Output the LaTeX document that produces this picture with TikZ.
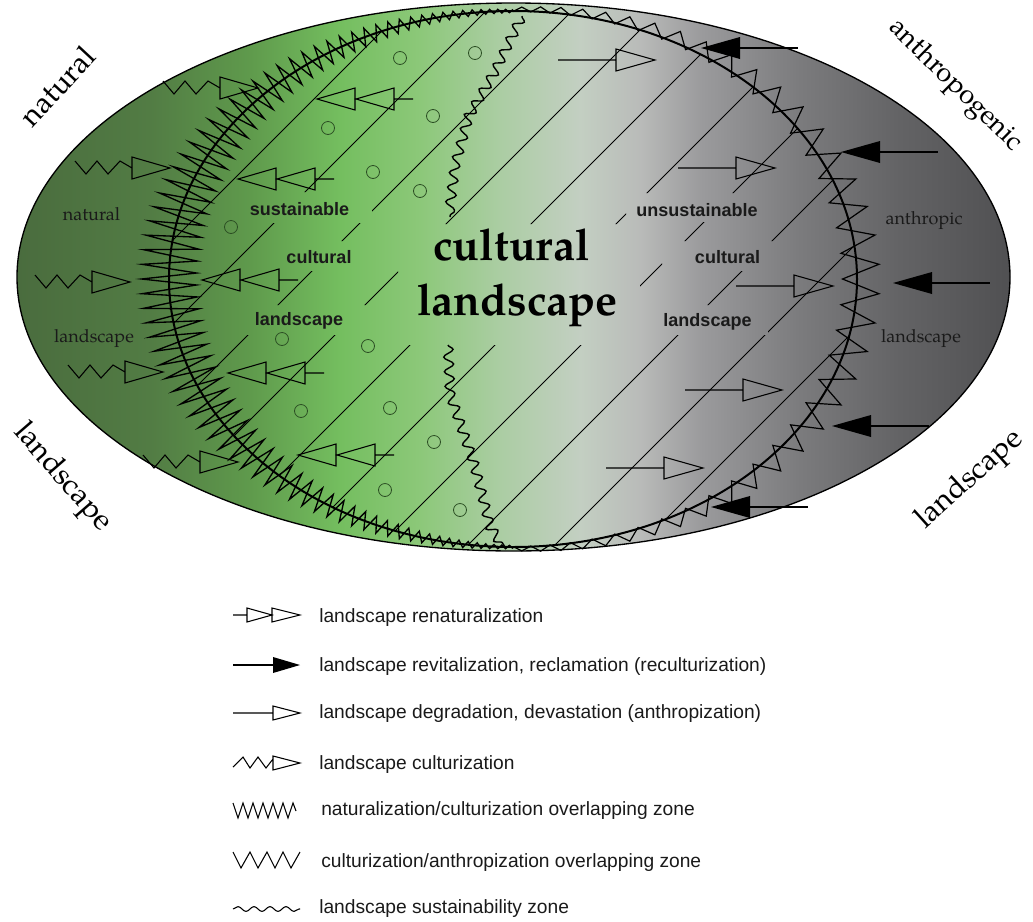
\documentclass[tikz,border=0pt]{standalone}
\usepackage{fontspec}
\setmainfont{TeX Gyre Pagella}
\newfontfamily\arialf{Liberation Sans}
\usetikzlibrary{decorations.pathmorphing}
\definecolor{g0}{HTML}{4A6C3E}
\definecolor{g1}{HTML}{527C44}
\definecolor{g2}{HTML}{5F9A4C}
\definecolor{g3}{HTML}{74BE5F}
\definecolor{g4}{HTML}{8CC879}
\definecolor{g5}{HTML}{ABCDA3}
\definecolor{g6}{HTML}{C3CFC2}
\definecolor{g7}{HTML}{B9BBB9}
\definecolor{g8}{HTML}{9B9B9D}
\definecolor{g9}{HTML}{7B7B7D}
\definecolor{g10}{HTML}{636365}
\definecolor{g11}{HTML}{505052}
\definecolor{circ}{HTML}{2C4F24}
\definecolor{txt}{HTML}{1A1A1A}
\pgfdeclarehorizontalshading{landgrad}{100bp}{color(0bp)=(g0); color(25bp)=(g0); color(31.7bp)=(g1); color(36.73bp)=(g2); color(41.26bp)=(g3); color(45.29bp)=(g4); color(49.32bp)=(g5); color(53.35bp)=(g6); color(56.37bp)=(g7); color(59.39bp)=(g8); color(64.43bp)=(g9); color(69.46bp)=(g10); color(75bp)=(g11); color(100bp)=(g11)}
\begin{document}
\begin{tikzpicture}[x=0.75pt,y=-0.75pt,
  declare function={
    zsl(\k)=\k/80-1;
    ztl(\k)=180+90*(0.53*zsl(\k)+0.47*sin(90*zsl(\k)));
    zcl(\k)=abs(cos(ztl(\k)));
    zdl(\k)=(1-2*mod(round(\k),2))*(1.5+26*(0.4*zcl(\k)+0.6*zcl(\k)*zcl(\k)));
    zsr(\k)=\k/38-1;
    ztr(\k)=90*(0.6*zsr(\k)+0.4*sin(90*zsr(\k)));
    zcr(\k)=abs(cos(ztr(\k)));
    zdr(\k)=mod(round(\k),2)*(3.5+19*zcr(\k))-(1-mod(round(\k),2))*(0.5+14*zcr(\k)*zcr(\k)*zcr(\k));
  },
  arr/.style={line width=0.8pt, line join=miter, draw=black},
  hatch/.style={line width=0.7pt, black},
  ring/.style={draw=circ, line width=0.6pt},
  wave/.style={decorate, decoration={snake, amplitude=3.6pt, segment length=11pt}, line width=1.05pt},
  outlbl/.style={font=\fontsize{22.5}{26}\selectfont, text=black, inner sep=0pt},
  serlbl/.style={font=\fontsize{13.5}{16}\selectfont, text=txt, inner sep=0pt, anchor=base},
  sanlbl/.style={font=\arialf\bfseries\fontsize{13.5}{16}\selectfont, text=txt, inner sep=0pt, anchor=base},
  titlbl/.style={font=\bfseries\fontsize{33}{36}\selectfont, text=black, inner sep=0pt, anchor=base},
  leglbl/.style={font=\arialf\fontsize{14.4}{17}\selectfont, text=txt, inner sep=0pt, anchor=base west},
  renat/.pic={\draw[arr] (0,0)--(38,-11)--(38,11)--cycle (39,0)--(77,-11)--(77,11)--cycle (77,0)--(96,0);},
  revit/.pic={\fill[black] (0,0)--(39,-11)--(39,11)--cycle; \draw[arr] (39,0)--(97,0);},
  degr/.pic={\draw[arr] (0,0)--(58,0) (58,-11)--(97,0)--(58,11)--cycle;},
  cultz/.pic={\draw[arr] (0,-7)--(11,6)--(22,-7)--(33,6)--(45,-7)--(57,0) (57,-11)--(95,0)--(57,11)--cycle;}
]
\useasboundingbox (0,0) rectangle (1033,922);

% background ellipse with gradient
\shade[shading=landgrad] (513.5,277) ellipse [x radius=496.5, y radius=274];
\draw[line width=1pt] (513.5,277) ellipse [x radius=496.5, y radius=274];

% hatch lines
\begin{scope}
  \clip (513,279) ellipse [x radius=344, y radius=268];
  \begin{scope}[even odd rule]
  \clip (0,0) rectangle (1033,600)
     (242,192) rectangle (372,223)
     (265,241) rectangle (372,271)
     (238,305) rectangle (366,335)
     (398,224) rectangle (640,345)
     (626,193) rectangle (772,222)
     (662,241) rectangle (775,271)
     (645,305) rectangle (768,335);
  \foreach \c in {413,497,583,670,755,840,926,1013,1100,1185}
    \draw[hatch] (\c-600,600) -- (\c,0);
  \end{scope}
\end{scope}

% small circles
\foreach \p in {(400,58),(475,53),(328,128),(433,116),(373,172),(420,191),(231,227),(282,339),(368,346),(301,411),(390,408),(434,442),(385,490),(460,510)}
  \draw[ring] \p circle (6.5);

% sustainability wavy lines
\draw[wave] (522,16) -- (497,67) -- (470,113) -- (457,160) -- (450,217);
\draw[wave] (448,345) -- (450,390) -- (473,457) -- (490,523) -- (505,547);

% inner ellipse
\draw[line width=1.5pt] (513,279) ellipse [x radius=344, y radius=268];

% left zigzag (naturalization/culturization)
\draw[line width=1pt, line join=miter] plot[domain=0:160, samples=161, variable=\k]
  ({513+(344+zdl(\k))*cos(ztl(\k))}, {279+(268+zdl(\k))*sin(ztl(\k))});
% right zigzag (culturization/anthropization)
\draw[line width=0.9pt, line join=miter] plot[domain=0:76, samples=77, variable=\k]
  ({513+(344+zdr(\k))*cos(ztr(\k))}, {279+(268+zdr(\k))*sin(ztr(\k))});

% culturization arrows
\foreach \p in {(163,88),(75,168),(35,282),(68,372),(143,462)}
  \pic at \p {cultz};
% renaturalization arrows
\foreach \p in {(317,99),(238,179),(202,280),(228,373),(298,455)}
  \pic at \p {renat};
% degradation arrows
\foreach \p in {(558,60),(678,168),(736,286),(685,390),(606,468)}
  \pic at \p {degr};
% revitalization arrows
\foreach \p in {(701,48),(841,152),(893,283),(832,426),(711,507)}
  \pic at \p {revit};

% outer labels
\node[outlbl, rotate=47] (lnat) at (57,86) {natural};
\node[outlbl, font=\fontsize{20.5}{24}\selectfont, rotate=-44.5] (lanth) at (955,86) {anthropogenic};
\node[outlbl, rotate=-49] (llandl) at (62,478) {landscape};
\node[outlbl, rotate=42] (llandr) at (970,480) {landscape};

% serif inner labels
\node[serlbl] (snat) at (91.5,220) {natural};
\node[serlbl] (slandl) at (94,342) {landscape};
\node[serlbl] (santh) at (924,224) {anthropic};
\node[serlbl] (slandr) at (921,342) {landscape};

% sans labels
\node[sanlbl] (sus) at (299.5,215) {sustainable};
\node[sanlbl] (culL) at (319,263) {cultural};
\node[sanlbl] (lanL) at (299,325) {landscape};
\node[sanlbl] (unsus) at (697,216) {unsustainable};
\node[sanlbl] (culR) at (727.5,263) {cultural};
\node[sanlbl] (lanR) at (707.5,326) {landscape};

% title
\node[titlbl] (t1) at (511.5,260) {cultural};
\node[titlbl] (t2) at (517.5,315) {landscape};

% legend symbols
\draw[arr] (233,615)--(247,615) (247,608)--(272,615)--(247,622)--cycle (272,608)--(300,615)--(272,622)--cycle;
\draw[arr] (233,665)--(274,665);
\fill[black] (273,657)--(300,665)--(273,673)--cycle;
\draw[arr] (233,713)--(273,713) (273,706)--(300,713)--(273,720)--cycle;
\draw[arr] (233,767)--(243,757)--(250,768)--(258,757)--(266,768)--(273,759) (273,756)--(300,763)--(273,770)--cycle;
\draw[arr] (233,803)--(238,818)--(243,803)--(248,818)--(253,803)--(258,818)--(263,803)--(268,818)--(273,803)--(278,818)--(283,803)--(288,818)--(293,803)--(296,811);
\draw[arr] (233,852)--(241,868)--(250,852)--(258,868)--(267,852)--(275,868)--(283,852)--(291,868)--(300,852);
\draw[line width=0.8pt, decorate, decoration={snake, amplitude=1.8pt, segment length=12pt}] (233,909)--(300,909);

% legend texts
\node[leglbl] (k1) at (319,622) {landscape renaturalization};
\node[leglbl] (k2) at (319,671) {landscape revitalization, reclamation (reculturization)};
\node[leglbl] (k3) at (319,718) {landscape degradation, devastation (anthropization)};
\node[leglbl] (k4) at (319,769) {landscape culturization};
\node[leglbl] (k5) at (321,815) {naturalization/culturization overlapping zone};
\node[leglbl] (k6) at (321,867) {culturization/anthropization overlapping zone};
\node[leglbl] (k7) at (319,913) {landscape sustainability zone};
\end{tikzpicture}
\end{document}
